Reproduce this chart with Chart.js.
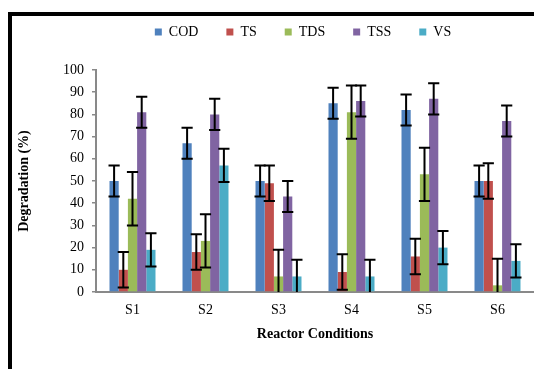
<!DOCTYPE html>
<html lang="en">
<head>
    <meta charset="UTF-8">
    <title>Degradation by reactor condition</title>
    <script src="https://cdn.jsdelivr.net/npm/chart.js"></script>
    <style>
        body { margin: 0; background: #fff; }
        #frame {
            position: absolute;
            left: 8px; top: 12px;
            width: 600px; height: 400px;
            border-left: 4px solid #000;
            border-top: 4px solid #000;
        }
        #chart { position: absolute; left: 0; top: 0; }
    </style>
</head>
<body>
    <div id="frame"></div>
    <canvas id="chart" width="534" height="369"></canvas>

    <script>
        // categories and values
        const conditions = ['S1', 'S2', 'S3', 'S4', 'S5', 'S6'];

        const cod = [50, 67, 50, 85, 82, 50];
        const ts  = [10, 18, 49, 9, 16, 50];
        const tds = [42, 23, 7, 81, 53, 3];
        const tss = [81, 80, 43, 86, 87, 77];
        const vs  = [19, 57, 7, 7, 20, 14];

        // error (+/-) per bar
        const codErr = [7, 7, 7, 7, 7, 7];
        const tsErr  = [8, 8, 8, 8, 8, 8];
        const tdsErr = [12, 12, 12, 12, 12, 12];
        const tssErr = [7, 7, 7, 7, 7, 7];
        const vsErr  = [7.5, 7.5, 7.5, 7.5, 7.5, 7.5];

        const yTicks = [0, 100, 10];  // min, max, step

        const serif = "'Liberation Serif', 'Times New Roman', serif";
        Chart.defaults.font.family = serif;
        Chart.defaults.font.size = 14;
        Chart.defaults.color = '#000';

        // draws the black error bars on top of each bar
        const errorBars = {
            id: 'errorBars',
            afterDatasetsDraw(chart) {
                const ctx = chart.ctx;
                const y = chart.scales.y;
                const area = chart.chartArea;
                ctx.save();
                ctx.beginPath();
                ctx.rect(area.left, area.top - 10, area.right - area.left, area.bottom - area.top + 10);
                ctx.clip();
                ctx.strokeStyle = '#000';
                ctx.lineWidth = 2;
                chart.data.datasets.forEach((ds, i) => {
                    const meta = chart.getDatasetMeta(i);
                    meta.data.forEach((bar, j) => {
                        const v = ds.data[j], e = ds.errors[j];
                        const top = y.getPixelForValue(v + e);
                        const bot = y.getPixelForValue(v - e);
                        const half = bar.width / 2 + 1;
                        ctx.beginPath();
                        ctx.moveTo(bar.x, top); ctx.lineTo(bar.x, bot);
                        ctx.moveTo(bar.x - half, top); ctx.lineTo(bar.x + half, top);
                        ctx.moveTo(bar.x - half, bot); ctx.lineTo(bar.x + half, bot);
                        ctx.stroke();
                    });
                });
                ctx.restore();
            }
        };

        // legend: make room for the plot top, then move it up/right like the original
        const legendShift = {
            id: 'legendShift',
            afterInit(chart) {
                const fit = chart.legend.fit;
                chart.legend.fit = function () {
                    fit.call(this);
                    this.height += 4;
                };
            },
            afterLayout(chart) {
                chart.legend.left += 30;
                chart.legend.right += 30;
                chart.legend.top -= 17;
                chart.legend.bottom -= 17;
            }
        };

        const ctx = document.getElementById('chart').getContext('2d');
        const chart = new Chart(ctx, {
            type: 'bar',
            data: {
                labels: conditions,
                datasets: [
                    { label: 'COD', data: cod, errors: codErr, backgroundColor: '#4F81BD' },
                    { label: 'TS',  data: ts,  errors: tsErr,  backgroundColor: '#C0504D' },
                    { label: 'TDS', data: tds, errors: tdsErr, backgroundColor: '#9BBB59' },
                    { label: 'TSS', data: tss, errors: tssErr, backgroundColor: '#8064A2' },
                    { label: 'VS',  data: vs,  errors: vsErr,  backgroundColor: '#4BACC6' }
                ]
            },
            plugins: [errorBars, legendShift],
            options: {
                responsive: false,
                animation: false,
                categoryPercentage: 0.63,
                barPercentage: 1.0,
                layout: { padding: { left: 12, right: 0, top: 14, bottom: 26 } },
                plugins: {
                    tooltip: { enabled: false },
                    legend: {
                        position: 'top',
                        labels: {
                            boxWidth: 7, boxHeight: 7, padding: 28,
                            font: { family: serif, size: 14 }
                        }
                    }
                },
                scales: {
                    x: {
                        grid: { display: false, drawTicks: false },
                        border: { color: '#898989', width: 2 },
                        ticks: { padding: 10 },
                        title: {
                            display: true,
                            text: 'Reactor Conditions',
                            font: { weight: 'bold' },
                            padding: { top: 0, bottom: 0 }
                        },
                        afterFit(scale) { scale.height = 51; }
                    },
                    y: {
                        min: yTicks[0],
                        max: yTicks[1],
                        ticks: { stepSize: yTicks[2], padding: 8 },
                        grid: { drawOnChartArea: false, tickLength: 4, color: '#898989', lineWidth: 1.5 },
                        border: { color: '#898989', width: 2 },
                        title: {
                            display: true,
                            text: 'Degradation (%)',
                            font: { weight: 'bold' },
                            padding: { top: 4, bottom: 2 }
                        },
                        afterFit(scale) { scale.width = 84; }
                    }
                }
            }
        });
    </script>
</body>
</html>
